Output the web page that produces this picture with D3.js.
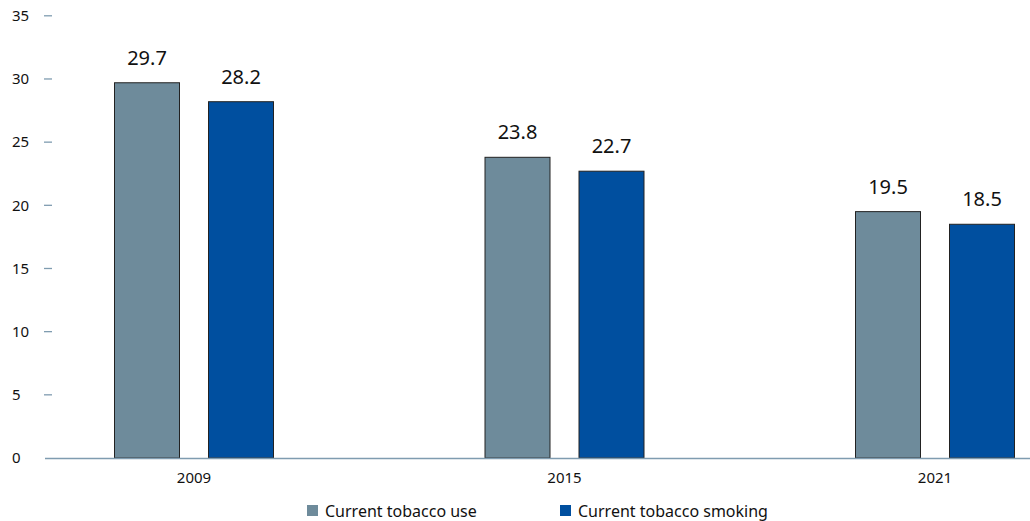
<!DOCTYPE html>
<html><head><meta charset="utf-8">
<script src="https://cdn.jsdelivr.net/npm/d3@7"></script>
<style>body{margin:0;background:#fff}svg{display:block}text{font-family:"Source Sans Pro","Noto Sans","Open Sans",sans-serif}</style>
</head><body><svg id="c" width="1030" height="521"></svg>
<script>
const years = ["2009", "2015", "2021"];
const seriesNames = ["Current tobacco use", "Current tobacco smoking"];
const tobaccoUse = [29.7, 23.8, 19.5];
const tobaccoSmoking = [28.2, 22.7, 18.5];
const yTicks = [0, 5, 10, 15, 20, 25, 30, 35];
const colors = ["#6e8b9b", "#004f9f"];

(function () {
const svg = d3.select("#c");
const axisLeft = 45, axisRight = 1030, plotTop = 15.8, plotBottom = 458;
const y = d3.scaleLinear().domain([0, 35]).range([plotBottom, plotTop]);
const x = d3.scalePoint().domain(years).range([194, 935]);
const bw = 65;

// y ticks
const yt = svg.append("g");
yTicks.forEach(t => {
  if (t > 0) yt.append("line").attr("x1", axisLeft - 1).attr("x2", axisLeft + 7).attr("y1", y(t)).attr("y2", y(t)).attr("stroke", "#7f9cb0").attr("stroke-width", 1.3);
  yt.append("text").attr("x", 12).attr("y", y(t)).attr("dy", "0.35em").attr("font-size", 15).attr("fill", "#111").text(t);
});

const data = [tobaccoUse, tobaccoSmoking];
data.forEach((vals, si) => {
  const off = si === 0 ? -47 : 47;
  const g = svg.append("g");
  g.selectAll("rect").data(vals).join("rect")
    .attr("x", (d, i) => x(years[i]) + off - bw / 2)
    .attr("y", d => y(d))
    .attr("width", bw)
    .attr("height", d => y(0) - y(d))
    .attr("fill", colors[si])
    .attr("stroke", "#222")
    .attr("stroke-width", 1);
  g.selectAll("text").data(vals).join("text")
    .attr("x", (d, i) => x(years[i]) + off)
    .attr("y", d => y(d) - 18)
    .attr("text-anchor", "middle")
    .attr("font-size", 20)
    .attr("fill", "#111")
    .text(d => d.toFixed(1));
});

// baseline
svg.append("line").attr("x1", axisLeft).attr("x2", axisRight).attr("y1", plotBottom + 0.5).attr("y2", plotBottom + 0.5).attr("stroke", "#7f9cb0").attr("stroke-width", 1.3);

// x labels
svg.append("g").selectAll("text").data(years).join("text")
  .attr("x", d => x(d)).attr("y", 478).attr("dy", "0.35em")
  .attr("text-anchor", "middle").attr("font-size", 15).attr("fill", "#111").text(d => d);

// legend
const legX = [307, 560];
seriesNames.forEach((n, i) => {
  svg.append("rect").attr("x", legX[i]).attr("y", 505).attr("width", 11).attr("height", 11).attr("fill", colors[i]);
  svg.append("text").attr("x", legX[i] + 18).attr("y", 511).attr("dy", "0.35em").attr("font-size", 16).attr("fill", "#111").text(n);
});
})();
</script></body></html>
